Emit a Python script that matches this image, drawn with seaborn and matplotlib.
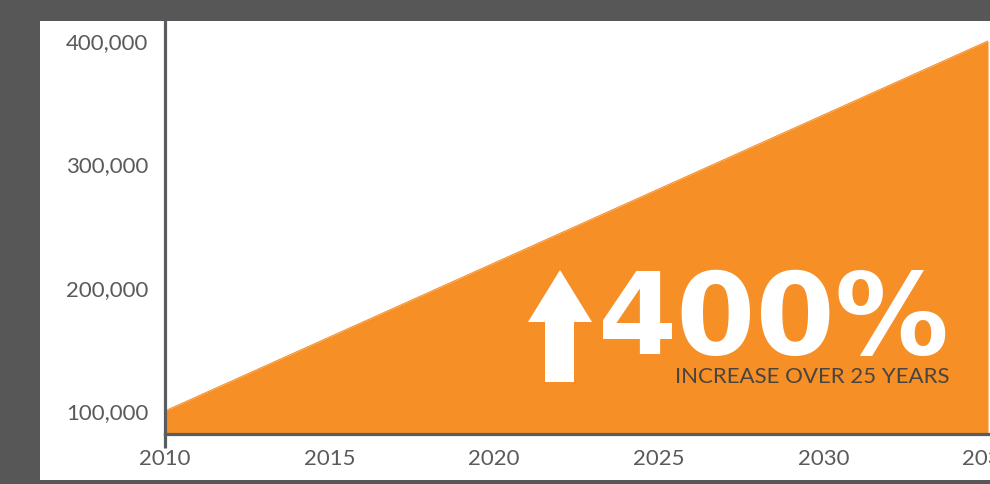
import matplotlib
matplotlib.use("Agg")
import matplotlib.pyplot as plt
from matplotlib.patches import Rectangle, Polygon
from matplotlib.ticker import FuncFormatter
import seaborn as sns

# Projected totals: start and end of the 25-year span
years = [2010, 2035]
values = [100000, 400000]

x_ticks = [2010, 2015, 2020, 2025, 2030, 2035]
y_ticks = [100000, 200000, 300000, 400000]

headline = "400%"
subline = "INCREASE OVER 25 YEARS"

ORANGE = "#F68F26"
AXIS_GREY = "#595d61"
LABEL_GREY = "#5a5a5a"
FRAME = "#575757"

sns.set_style("white")
plt.rcParams["font.family"] = ["Lato", "DejaVu Sans"]

W, H = 990, 484
fig = plt.figure(figsize=(W / 100, H / 100), dpi=100, facecolor=FRAME)

# white card behind the chart
fig.patches.append(Rectangle((40 / W, 4 / H), 1.0, (480 - 21) / H,
                             transform=fig.transFigure, facecolor="white",
                             edgecolor="none", zorder=-5))

ax = fig.add_axes([165 / W, (H - 434) / H, (988 - 165) / W, (434 - 21) / H])
ax.set_facecolor("none")

y_low, y_high = 81350, 416200
ax.set_xlim(x_ticks[0], x_ticks[-1])
ax.set_ylim(y_low, y_high)

sns.lineplot(x=years, y=values, ax=ax, color=ORANGE, linewidth=0.8)
ax.fill_between(years, values, y_low, color=ORANGE, linewidth=0, zorder=1)

for side in ("top", "right"):
    ax.spines[side].set_visible(False)
for side in ("left", "bottom"):
    ax.spines[side].set_color(AXIS_GREY)
    ax.spines[side].set_linewidth(2.3)
    ax.spines[side].set_zorder(3)
# y axis runs a little past the x axis
ax.plot([0, 0], [-0.033, 0], transform=ax.transAxes, color=AXIS_GREY,
        linewidth=2.3, clip_on=False, solid_capstyle="butt", zorder=3)

ax.set_xticks(x_ticks)
ax.set_yticks(y_ticks)
ax.yaxis.set_major_formatter(FuncFormatter(lambda v, _: f"{int(v):,}"))
ax.tick_params(axis="y", direction="inout", length=16, width=1.6,
               color=AXIS_GREY, pad=4, labelsize=16, labelcolor=LABEL_GREY)
ax.tick_params(axis="x", direction="in", length=7.5, width=1.4,
               color=AXIS_GREY, pad=11, labelsize=16, labelcolor=LABEL_GREY)
for t in ax.xaxis.get_major_ticks():
    t.tick1line.set_zorder(4)
ax.set_xlabel("")
ax.set_ylabel("")

# up arrow beside the headline (pixel positions -> inches)
arrow_px = [(560, 270), (592, 322), (574, 322), (574, 382),
            (545, 382), (545, 322), (528, 322)]
arrow = Polygon([(x / 100, (H - y) / 100) for x, y in arrow_px], closed=True,
                facecolor="white", edgecolor="none",
                transform=fig.dpi_scale_trans, zorder=5)
fig.patches.append(arrow)

fig.text(598 / W, (H - 354) / H, headline, color="white", fontsize=82,
         fontweight="bold", family="DejaVu Sans", ha="left", va="baseline",
         zorder=6)
fig.text(675 / W, (H - 383) / H, subline, color="#4a4440", fontsize=16,
         ha="left", va="baseline", zorder=6)

fig.savefig("out.png", dpi=100, facecolor=FRAME)
